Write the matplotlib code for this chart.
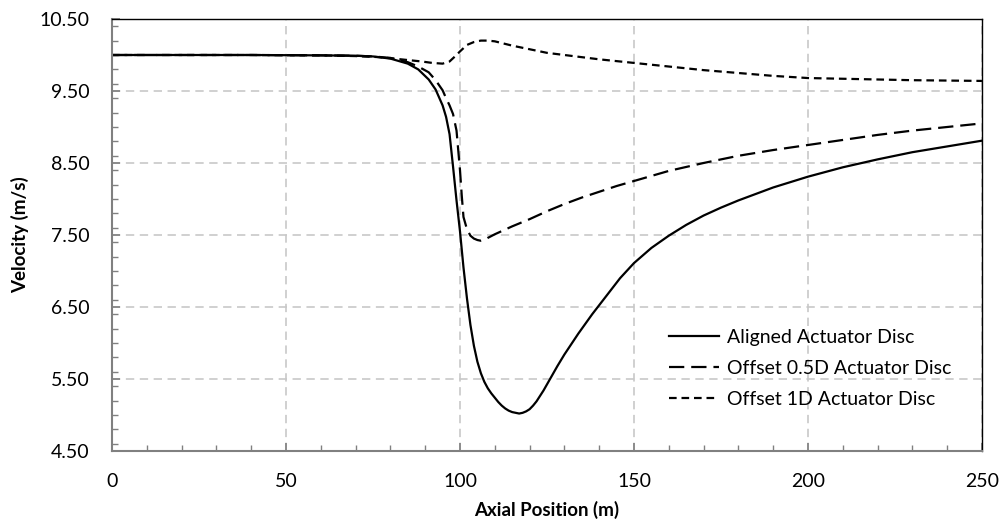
import matplotlib.pyplot as plt
from matplotlib.ticker import MultipleLocator, FormatStrFormatter

plt.rcParams['font.family'] = ['Lato', 'DejaVu Sans']
plt.rcParams['lines.scale_dashes'] = False

# Aligned actuator disc
x_aligned = [0, 20, 40, 60, 70, 75, 80, 85, 88, 91, 93, 95, 96, 97, 98, 99, 100,
             101, 102, 103, 104, 105, 106, 107, 108, 109, 110, 111, 112, 113, 114,
             115, 116, 117, 118, 119, 120, 121, 122, 124, 126, 128, 130, 134, 138,
             142, 146, 150, 155, 160, 165, 170, 175, 180, 190, 200, 210, 220, 230,
             240, 250]
v_aligned = [10.0, 10.0, 10.0, 9.995, 9.99, 9.98, 9.95, 9.88, 9.80, 9.66, 9.52, 9.30,
             9.14, 8.90, 8.45, 7.98, 7.55, 7.05, 6.62, 6.25, 5.96, 5.74, 5.58, 5.46,
             5.37, 5.30, 5.24, 5.18, 5.13, 5.09, 5.06, 5.04, 5.03, 5.02, 5.03, 5.05,
             5.08, 5.13, 5.19, 5.34, 5.51, 5.68, 5.84, 6.13, 6.40, 6.65, 6.90, 7.11,
             7.32, 7.49, 7.64, 7.77, 7.88, 7.98, 8.16, 8.31, 8.44, 8.55, 8.65, 8.73,
             8.81]

# Offset 0.5D actuator disc
x_half = [0, 20, 40, 60, 70, 75, 80, 85, 88, 91, 93, 95, 96, 97, 98, 99, 100, 100.5,
          101, 102, 103, 104, 105, 106, 107, 108, 110, 115, 120, 125, 130, 135, 140,
          145, 150, 160, 170, 180, 190, 200, 210, 220, 230, 240, 250]
v_half = [10.0, 10.0, 10.0, 9.995, 9.99, 9.98, 9.96, 9.90, 9.84, 9.76, 9.65, 9.51,
          9.40, 9.30, 9.18, 8.95, 8.40, 8.05, 7.75, 7.58, 7.49, 7.45, 7.43, 7.42,
          7.43, 7.46, 7.51, 7.62, 7.72, 7.83, 7.93, 8.02, 8.10, 8.18, 8.25, 8.39,
          8.50, 8.60, 8.68, 8.75, 8.82, 8.89, 8.95, 9.00, 9.05]

# Offset 1D actuator disc
x_one = [0, 20, 40, 60, 70, 77, 83, 89, 92, 95, 97, 99, 100, 102, 104, 106, 108, 110,
         115, 120, 125, 130, 135, 140, 150, 160, 170, 180, 190, 200, 210, 220, 230,
         240, 250]
v_one = [10.0, 10.0, 10.0, 9.995, 9.985, 9.97, 9.94, 9.91, 9.89, 9.88, 9.91, 10.0,
         10.05, 10.14, 10.18, 10.20, 10.20, 10.19, 10.13, 10.08, 10.03, 10.00, 9.97,
         9.94, 9.89, 9.84, 9.79, 9.75, 9.71, 9.68, 9.67, 9.66, 9.65, 9.645, 9.64]

fig = plt.figure(figsize=(10.02, 5.25), dpi=100)
ax = fig.add_axes([0.1118, 0.141, 0.8682, 0.8228])

ax.plot(x_aligned, v_aligned, color='black', lw=1.6, label='Aligned Actuator Disc')
ax.plot(x_half, v_half, color='black', lw=1.6, dashes=(11, 5),
        label='Offset 0.5D Actuator Disc')
ax.plot(x_one, v_one, color='black', lw=1.6, dashes=(5.5, 3.5),
        label='Offset 1D Actuator Disc')

ax.set_xlim(0, 250)
ax.set_ylim(4.5, 10.5)
ax.xaxis.set_major_locator(MultipleLocator(50))
ax.xaxis.set_minor_locator(MultipleLocator(10))
ax.yaxis.set_minor_locator(MultipleLocator(0.2))
ax.yaxis.set_major_formatter(FormatStrFormatter('%.2f'))
ax.set_yticks([4.5, 5.5, 6.5, 7.5, 8.5, 9.5, 10.5])

ax.grid(True, which='major', color='#c8c8c8', linestyle=(0, (6, 4)), lw=1.2)
ax.set_axisbelow(True)

for side in ['left', 'bottom']:
    ax.spines[side].set_color('#808080')
    ax.spines[side].set_linewidth(1.5)
for side in ['top', 'right']:
    ax.spines[side].set_color('black')
    ax.spines[side].set_linewidth(1.0)

ax.tick_params(which='both', direction='in', color='#808080', top=False, right=False)
ax.tick_params(which='major', length=6, width=1.2, labelsize=14)
ax.tick_params(which='minor', length=4, width=1.0)
ax.tick_params(axis='y', which='major', pad=16)
ax.tick_params(axis='x', which='major', pad=16)

ax.set_xlabel('Axial Position (m)', fontsize=13.5, fontweight='bold', labelpad=8)
ax.set_ylabel('Velocity (m/s)', fontsize=13.5, fontweight='bold', labelpad=8)

ax.legend(loc='lower right', bbox_to_anchor=(0.985, 0.06), frameon=False, fontsize=14,
          handlelength=2.6, handletextpad=0.4, labelspacing=0.72)

fig.savefig('out.png', dpi=100)
